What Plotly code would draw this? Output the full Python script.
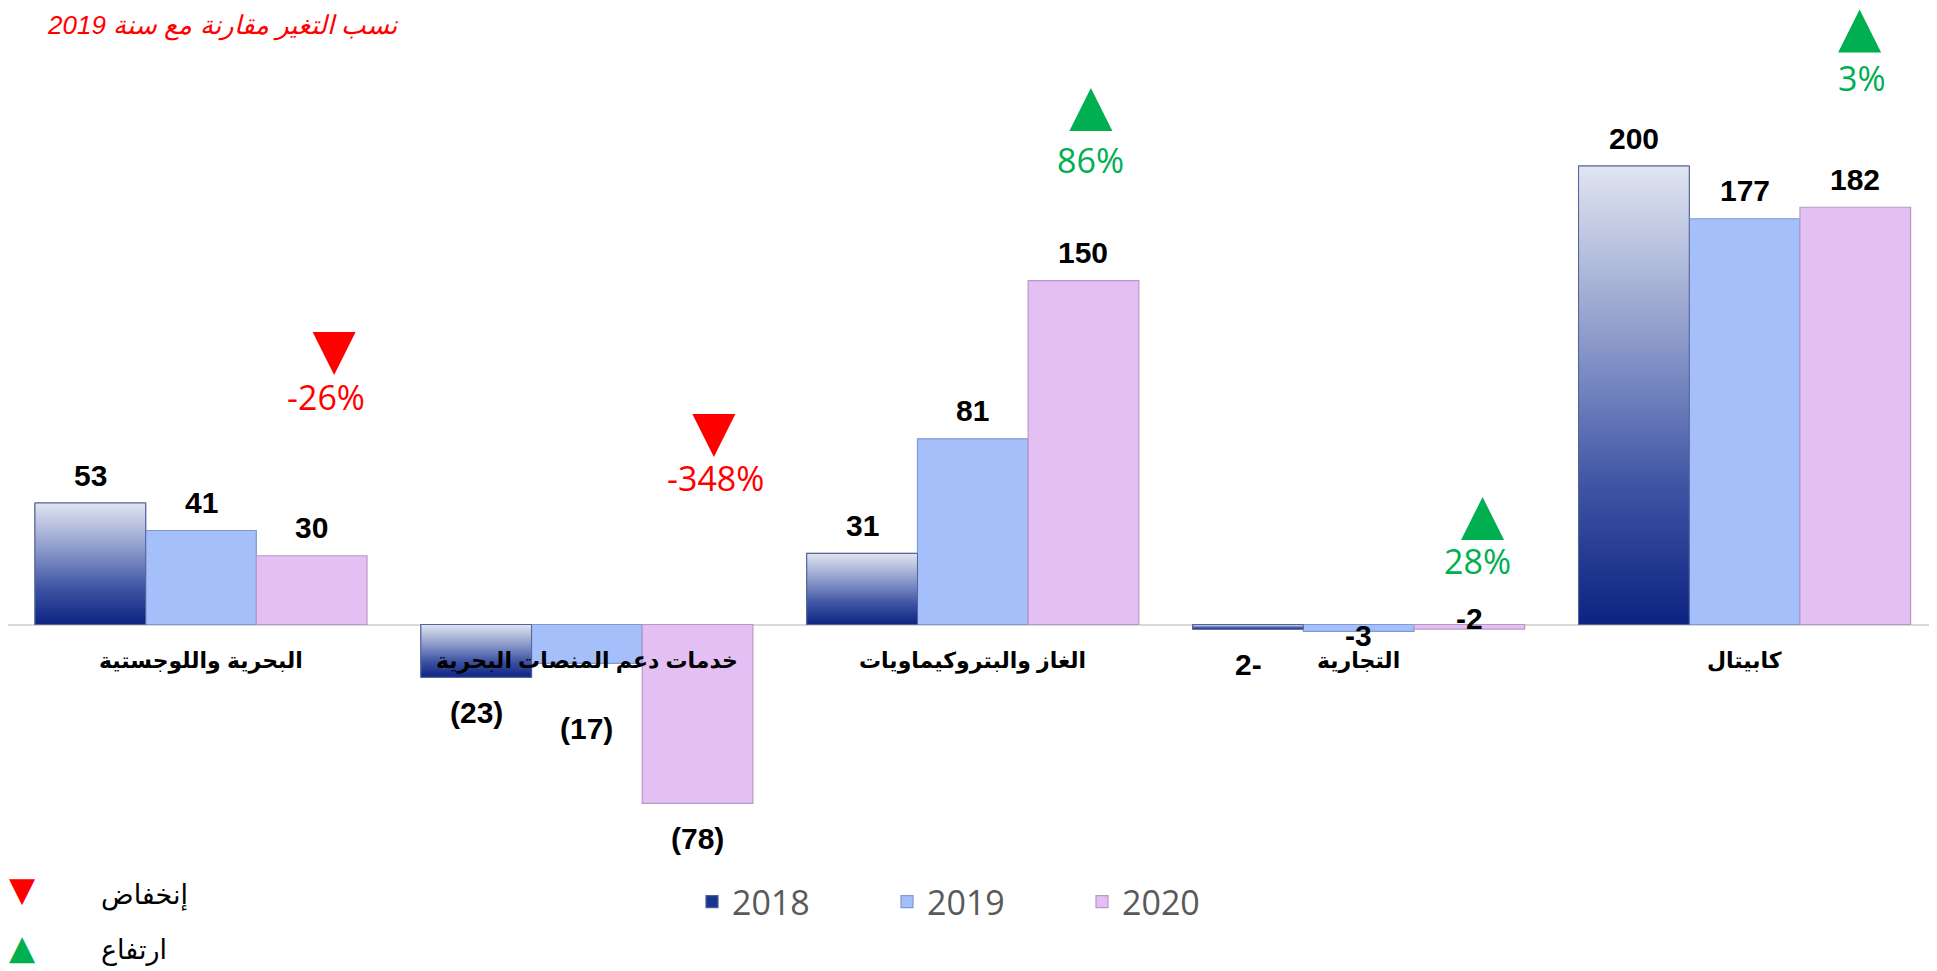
import plotly.graph_objects as go

# ---------------- data ----------------
categories = ["البحرية واللوجستية", "خدمات دعم المنصات البحرية", "الغاز والبتروكيماويات", "التجارية", "كابيتال"]
years = ["2018", "2019", "2020"]
values_2018 = [53, -23, 31, -2, 200]
values_2019 = [41, -17, 81, -3, 177]
values_2020 = [30, -78, 150, -2, 182]
labels_2018 = ["53", "(23)", "31", "2-", "200"]
labels_2019 = ["41", "(17)", "81", "-3", "177"]
labels_2020 = ["30", "(78)", "150", "-2", "182"]
change_labels = ["-26%", "-348%", "86%", "28%", "3%"]
change_up = [False, False, True, True, True]
title_text = "نسب التغير مقارنة مع سنة 2019"
legend_down_text = "إنخفاض"
legend_up_text = "ارتفاع"

# ---------------- layout constants ----------------
PAGE_MARGIN = 8                      # default body margin of the html page
W, H = 1937 - PAGE_MARGIN, 971 - PAGE_MARGIN
PX_PER_UNIT = 2.2925
ZERO_PX = 624.5 - PAGE_MARGIN
GROUP_PX = 385.9
FIRST_CENTER_PX = 201 - PAGE_MARGIN
x_min = -FIRST_CENTER_PX / GROUP_PX
x_max = x_min + W / GROUP_PX
y_max = ZERO_PX / PX_PER_UNIT
y_min = -(H - ZERO_PX) / PX_PER_UNIT


def px(xp):
    return (xp - PAGE_MARGIN) / W


def py(yp):
    return 1 - (yp - PAGE_MARGIN) / H


bar_w = 0.2868
offsets = [-1.5 * bar_w, -0.5 * bar_w, 0.5 * bar_w]
label_shift = [
    [28, -35, 28, -35, 28],
    [28, -65, 28, -4, 28],
    [28, -35, 28, 11, 28],
]
# arrow tip positions (tip = top for up arrows, bottom for down arrows)
arrow_x_off = [0.345, 0.329, 0.306, 0.321, 0.298]
arrow_tip_y = [108.8, 73.1, 234.0, 55.6, 268.3]
pct_x_off = [0.324, 0.334, 0.306, 0.308, 0.303]
pct_y = [99.2, 63.9, 202.6, 27.7, 238.4]

series_values = [values_2018, values_2019, values_2020]
series_labels = [labels_2018, labels_2019, labels_2020]
fill_colors = ["#1A3290", "#A4BFFA", "#E3BFF3"]
line_colors = ["#4E5E96", "#7F99D6", "#B799C8"]
gradient_2018 = [[0, "#0C2482"], [0.3, "#3E54A3"], [0.6, "#8796C8"], [1, "#E1E5F1"]]

xs = list(range(len(categories)))

fig = go.Figure()

for k, (yr, vals) in enumerate(zip(years, series_values)):
    fig.add_trace(go.Bar(
        x=xs, y=vals, name=yr,
        width=bar_w, offset=offsets[k],
        marker=dict(color=fill_colors[k], line=dict(color=line_colors[k], width=1.2)),
        hovertext=categories, hoverinfo="text+y+name",
    ))

# gradient overlay for the 2018 bars (same values, same geometry as the bar trace)
for i, v in enumerate(values_2018):
    x0 = xs[i] + offsets[0]
    x1 = x0 + bar_w
    fig.add_trace(go.Scatter(
        x=[x0, x1, x1, x0, x0], y=[0, 0, v, v, 0],
        mode="lines", fill="toself",
        fillgradient=dict(type="vertical", colorscale=gradient_2018),
        line=dict(color="#56639A", width=1),
        showlegend=False, hoverinfo="skip",
    ))

# change arrows
fig.add_trace(go.Scatter(
    x=[xs[i] + arrow_x_off[i] for i in xs], y=arrow_tip_y,
    mode="markers", cliponaxis=False,
    marker=dict(
        symbol=["arrow-up" if u else "arrow-down" for u in change_up],
        color=["#00B050" if u else "#FF0000" for u in change_up],
        size=43, line=dict(width=0),
    ),
    showlegend=False, hoverinfo="skip",
))

annotations = []
# data labels
for k in range(3):
    for i in xs:
        v = series_values[k][i]
        annotations.append(dict(
            x=xs[i] + offsets[k] + bar_w / 2, y=v, xref="x", yref="y",
            text=series_labels[k][i], showarrow=False,
            yanchor="middle", xanchor="center", yshift=label_shift[k][i],
            font=dict(family="Liberation Sans, Arial, sans-serif", size=30, color="#000000", weight="bold"),
        ))
# percent-change labels
for i in xs:
    annotations.append(dict(
        x=xs[i] + pct_x_off[i], y=pct_y[i], xref="x", yref="y",
        text=change_labels[i], showarrow=False, yanchor="middle", xanchor="center",
        font=dict(family="Open Sans, sans-serif", size=34,
                  color="#00B050" if change_up[i] else "#FF0000"),
    ))
# category labels
for i in xs:
    annotations.append(dict(
        x=xs[i], y=0, xref="x", yref="y", text=categories[i], showarrow=False,
        yanchor="middle", xanchor="center", yshift=-36,
        font=dict(family="Arial, DejaVu Sans, sans-serif", size=22, color="#000000", weight="bold"),
    ))
# title
annotations.append(dict(
    x=px(400), y=1, xref="paper", yref="paper", text=title_text, showarrow=False,
    xanchor="right", yanchor="top",
    font=dict(family="Arial, DejaVu Sans, sans-serif", size=26, color="#FF0000", style="italic"),
))
# side legend for arrows
annotations += [
    dict(x=px(22), y=py(889), xref="paper", yref="paper", text="▼", showarrow=False,
         xanchor="center", yanchor="middle", font=dict(family="DejaVu Sans", size=34, color="#FF0000")),
    dict(x=px(22), y=py(947), xref="paper", yref="paper", text="▲", showarrow=False,
         xanchor="center", yanchor="middle", font=dict(family="DejaVu Sans", size=34, color="#00B050")),
    dict(x=px(99), y=py(895), xref="paper", yref="paper", text=legend_down_text, showarrow=False,
         xanchor="left", yanchor="middle", font=dict(family="Arial, DejaVu Sans, sans-serif", size=27, color="#000000")),
    dict(x=px(99), y=py(950), xref="paper", yref="paper", text=legend_up_text, showarrow=False,
         xanchor="left", yanchor="middle", font=dict(family="Arial, DejaVu Sans, sans-serif", size=27, color="#000000")),
]

fig.update_layout(
    width=W, height=H,
    margin=dict(l=0, r=0, t=0, b=0),
    paper_bgcolor="white", plot_bgcolor="white",
    barmode="overlay",
    showlegend=True,
    legend=dict(
        orientation="h", x=px(692), y=py(902), xanchor="left", yanchor="middle",
        font=dict(family="Open Sans, sans-serif", size=34, color="#595959"),
        entrywidth=150, bgcolor="rgba(0,0,0,0)",
    ),
    xaxis=dict(range=[x_min, x_max], showgrid=False, zeroline=False, showticklabels=False,
               showline=False, fixedrange=True),
    yaxis=dict(range=[y_min, y_max], showgrid=False, zeroline=True, zerolinecolor="#D9D9D9",
               zerolinewidth=2, showticklabels=False, showline=False, fixedrange=True),
    annotations=annotations,
)

fig.write_html("out.html")
